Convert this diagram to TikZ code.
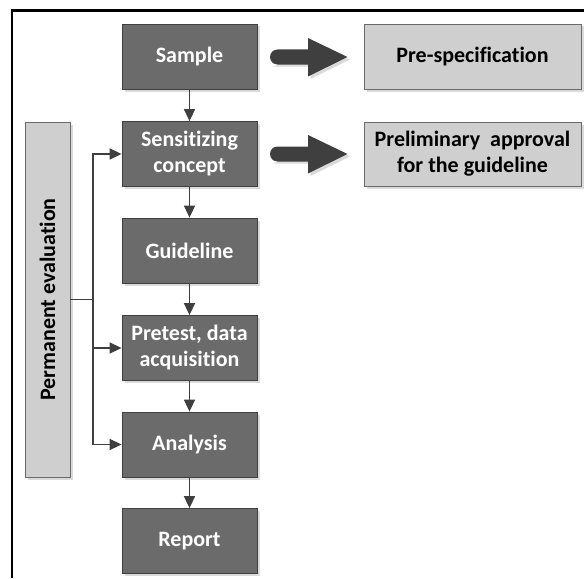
\documentclass[tikz,border=0pt]{standalone}
\usepackage{fontspec}
\setmainfont{Carlito}[RawFeature={-liga;-clig;-dlig}]
\usetikzlibrary{arrows.meta,shadows,positioning}
\definecolor{darkbox}{HTML}{6B6B6B}
\definecolor{darkline}{HTML}{3F3F3F}
\definecolor{lightbox}{HTML}{CFCFCF}
\definecolor{lightline}{HTML}{6A6A6A}
\definecolor{shadowc}{HTML}{DADADA}
\tikzset{
  darkstep/.style={draw=darkline, line width=0.8pt, fill=darkbox, text=white,
    minimum width=135pt, minimum height=65pt, inner sep=0pt, align=center,
    font=\fontsize{22}{26}\selectfont\bfseries,
    drop shadow={shadow xshift=2.5pt, shadow yshift=-2.5pt, fill=shadowc, opacity=1}},
  lightstep/.style={draw=lightline, line width=0.8pt, fill=lightbox, text=black,
    inner sep=0pt, align=center,
    font=\fontsize{22}{26}\selectfont\bfseries,
    drop shadow={shadow xshift=2.5pt, shadow yshift=-2.5pt, fill=shadowc, opacity=1}},
  flow/.style={draw=darkline, line width=1.6pt, -{Triangle[length=12pt,width=11pt]}},
  bigarrow/.style={fill=darkline, draw=none},
}
\begin{document}
\begin{tikzpicture}[x=1pt,y=-1pt]
\useasboundingbox (0,0) rectangle (588,578);
% frame
\draw[line width=2.5pt, black] (584,10.5) -- (12,10.5) -- (12,578);
% main column
\node[darkstep] (sample) at (189.5,56.5) {Sample};
\node[darkstep] (sens) at (189.5,154) {Sensitizing\\concept};
\node[darkstep] (guide) at (189.5,250.5) {Guideline};
\node[darkstep] (pretest) at (189.5,348) {Pretest, data\\acquisition};
\node[darkstep] (analysis) at (189.5,444.5) {Analysis};
\node[darkstep] (report) at (189.5,541) {Report};
% right boxes
\node[lightstep, minimum width=217pt, minimum height=65pt] (prespec) at (472.5,56.5) {Pre-specification};
\node[lightstep, minimum width=217pt, minimum height=64pt] (prelim) at (472.5,154) {Preliminary\ \ approval\\for the guideline};
% permanent evaluation
\node[lightstep, minimum width=45pt, minimum height=355pt] (perm) at (47.5,299.5) {};
\node[rotate=90, font=\fontsize{22}{26}\selectfont\bfseries, text=black] (permtext) at (perm.center) {Permanent evaluation};
% vertical flow
\draw[flow] (sample) -- (sens);
\draw[flow] (sens) -- (guide);
\draw[flow] (guide) -- (pretest);
\draw[flow] (pretest) -- (analysis);
\draw[flow] (analysis) -- (report);
% branch
\coordinate (jn) at (93,299.5);
\draw[darkline, line width=1.6pt] (perm.east) -- (jn);
\draw[flow] (jn) |- (sens.west);
\draw[flow] (jn) |- (pretest.west);
\draw[flow] (jn) |- (analysis.west);
% big arrows
\foreach \src/\dst/\yy in {sample/prespec/57, sens/prelim/154}{
  \fill[shadowc] (272.5,\yy-5.5) -- (310.5,\yy-5.5) -- (310.5,\yy-17) -- (350,\yy+2.5) -- (310.5,\yy+22) -- (310.5,\yy+9.5) -- (272.5,\yy+9.5) arc[start angle=90, end angle=270, radius=-7.5pt] -- cycle;
  \fill[bigarrow] (277.5,\yy-7.5) -- (308,\yy-7.5) -- (308,\yy-19) -- (347.5,\yy) -- (308,\yy+19.5) -- (308,\yy+7.5) -- (277.5,\yy+7.5) arc[start angle=270, end angle=90, radius=7.5pt] -- cycle;
}
\end{tikzpicture}
\end{document}
